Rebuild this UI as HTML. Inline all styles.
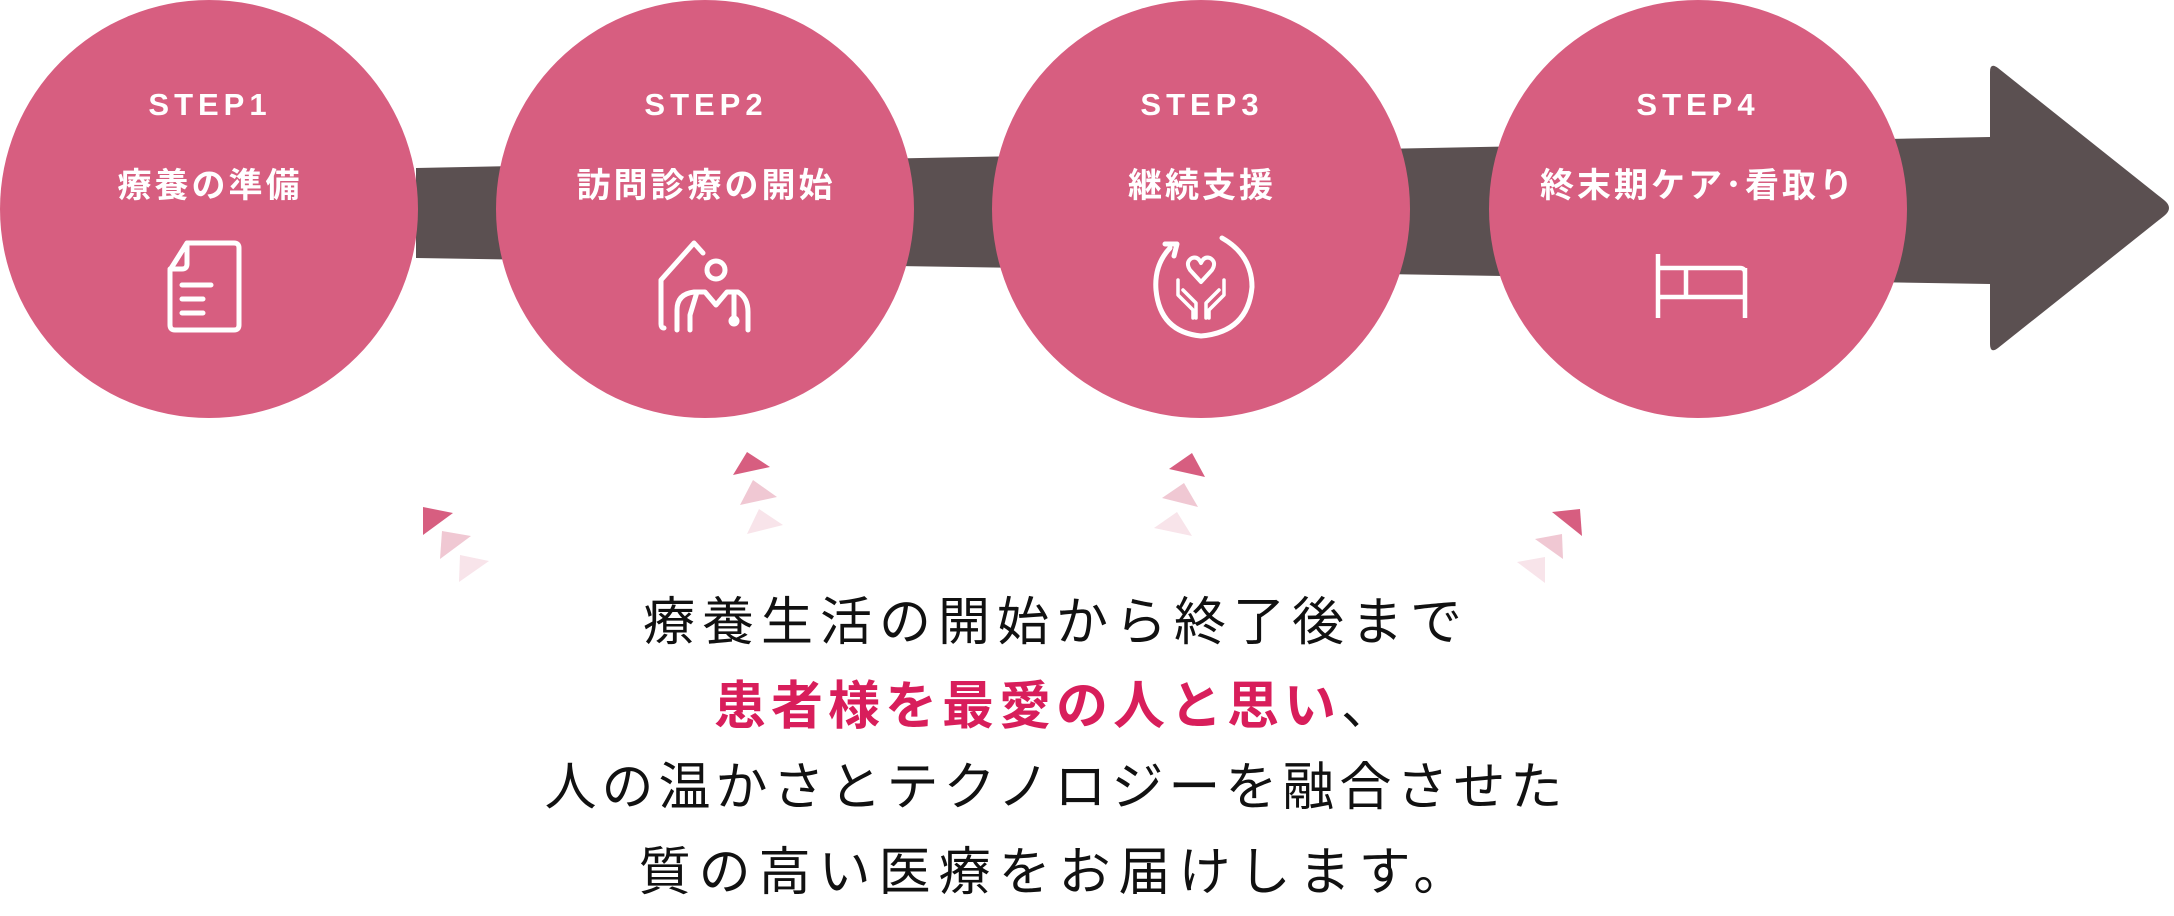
<!DOCTYPE html>
<html><head><meta charset="utf-8"><style>
html,body{margin:0;padding:0;background:#fff;}
body{width:2174px;height:916px;position:relative;overflow:hidden;font-family:"Liberation Sans","Noto Sans CJK JP",sans-serif;}
.lbl{position:absolute;width:420px;text-align:center;color:#fff;font-weight:bold;}
.st{font-size:31px;letter-spacing:5px;top:87px;}
.jp{font-size:34px;letter-spacing:3px;top:158px;}
.line{position:absolute;left:0;width:2112px;text-align:center;font-size:52px;letter-spacing:5px;color:#111;line-height:1;}
</style></head><body>
<svg width="2174" height="916" style="position:absolute;left:0;top:0">
<polygon points="416,168 1990,137 1990,284 416,258" fill="#5b5051"/>
<path d="M1990,72 Q1990,62 1998,68 L2164,200 Q2174,208 2164,216 L1998,348 Q1990,354 1990,344 Z" fill="#5b5051"/>
<g fill="#d75e80">
<circle cx="209" cy="209" r="209"/><circle cx="705" cy="209" r="209"/>
<circle cx="1201" cy="209" r="209"/><circle cx="1698" cy="209" r="209"/>
</g>
<g fill="none" stroke="#fff" stroke-width="5" stroke-linecap="round" stroke-linejoin="round">
<path d="M187,243 H234 Q239,243 239,248 V325 Q239,330 234,330 H175 Q170,330 170,325 V270 L187,243 V264 Q187,269 182,269 H170"/>
<path d="M182,285 H211 M182,299 H203 M182,313 H203"/>
<path d="M664,328 Q661,328 661,324 V280 L694,243 L703,253"/>
<circle cx="716" cy="270" r="9"/>
<path d="M677,330 V310 Q677,294 694,292 L705,292 L716,305 L727,292 L738,292 Q748,298 748,312 V330"/>
<path d="M697,292 L690,315 M690,315 V330 M734,292 V318"/>
<circle cx="734" cy="321" r="3" fill="#fff"/>
<path d="M1170,248 Q1154,265 1156,290 Q1160,332 1201,336 Q1248,332 1252,287 Q1252,255 1222,238"/>
<path d="M1165,244 L1177,244 L1174,256"/>
<path d="M1201,282 L1190,270 Q1185,262 1192,258 Q1198,256 1201,263 Q1204,256 1210,258 Q1217,262 1212,270 Z" stroke-width="4"/>
<path d="M1178,280 V295 L1193,310 V318 M1183,290 L1196,303 V318 M1224,280 V295 L1209,310 V318 M1219,290 L1206,303 V318" stroke-width="3.5"/>
<path d="M1658,254 V318 M1745,268 V318 M1658,268 H1740 Q1745,268 1745,273 M1658,297 H1745 M1686,268 V297" stroke-width="4.5" stroke-linecap="butt"/>
</g>
<polygon points="423,507 453,513 423,535" fill="#d75e80"/>
<polygon points="442,531 471,536 440,559" fill="#f0c8d3"/>
<polygon points="460,555 489,561 459,582" fill="#f8e4ea"/>
<polygon points="747,452 770,467 733,475" fill="#d75e80"/>
<polygon points="753,480 777,497 740,505" fill="#f0c8d3"/>
<polygon points="759,509 783,525 747,534" fill="#f8e4ea"/>
<polygon points="1192,453 1205,477 1169,469" fill="#d75e80"/>
<polygon points="1184,483 1198,507 1162,498" fill="#f0c8d3"/>
<polygon points="1177,512 1192,536 1154,528" fill="#f8e4ea"/>
<polygon points="1552,512 1580,509 1582,536" fill="#d75e80"/>
<polygon points="1535,539 1562,534 1563,559" fill="#f0c8d3"/>
<polygon points="1517,562 1545,557 1545,583" fill="#f8e4ea"/>
</svg>
<div class="lbl st" style="left:0">STEP1</div><div class="lbl jp" style="left:0">療養の準備</div>
<div class="lbl st" style="left:496px">STEP2</div><div class="lbl jp" style="left:496px">訪問診療の開始</div>
<div class="lbl st" style="left:992px">STEP3</div><div class="lbl jp" style="left:992px">継続支援</div>
<div class="lbl st" style="left:1488px">STEP4</div><div class="lbl jp" style="left:1488px">終末期ケア･看取り</div>
<div class="line" style="top:597px;letter-spacing:7px">療養生活の開始から終了後まで</div>
<div class="line" style="top:681px;color:#d81e5b;font-weight:bold;">患者様を最愛の人と思い<span style="color:#111;font-weight:normal">、</span></div>
<div class="line" style="top:762px">人の温かさとテクノロジーを融合させた</div>
<div class="line" style="top:847px;letter-spacing:8px">質の高い医療をお届けします。</div>
</body></html>
